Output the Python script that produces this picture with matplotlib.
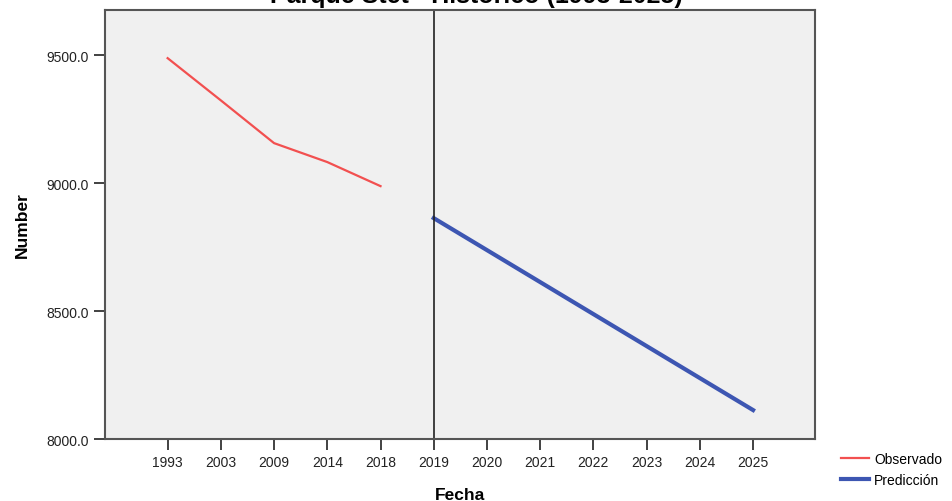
import matplotlib.pyplot as plt

plt.switch_backend('Agg')
plt.rcParams['font.family'] = ['Liberation Sans', 'DejaVu Sans']

# data
years = ['1993', '2003', '2009', '2014', '2018', '2019', '2020', '2021', '2022', '2023', '2024', '2025']
obs_years = ['1993', '2003', '2009', '2014', '2018']
observado = [9488, 9323, 9156, 9082, 8988]
pred_years = ['2019', '2020', '2021', '2022', '2023', '2024', '2025']
prediccion = [8863, 8738, 8613, 8488, 8363, 8238, 8113]
yticks = [8000, 8500, 9000, 9500]

pos = {y: i for i, y in enumerate(years)}

fig = plt.figure(figsize=(9.53, 5.02), dpi=100)
ax = fig.add_axes([0.110, 0.1235, 0.745, 0.8545])
ax.set_facecolor('#f0f0f0')

ax.plot([pos[y] for y in obs_years], observado, color='#f25050', lw=1.6, label='Observado')
ax.plot([pos[y] for y in pred_years], prediccion, color='#3d56b2', lw=3, label='Predicción')
ax.axvline(pos['2019'], color='#222222', lw=1.2)

ax.set_xlim(-1.18, 12.16)
ax.set_ylim(8000, 9676)
ax.set_xticks(range(len(years)))
ax.set_xticklabels(years)
ax.set_yticks(yticks)
ax.set_yticklabels([f'{v:.1f}' for v in yticks])
ax.tick_params(axis='both', labelsize=10, colors='#333333', length=8, width=1.3, labelcolor='#222222')
for s in ax.spines.values():
    s.set_color('#555555')
    s.set_linewidth(1.5)

ax.set_xlabel('Fecha', fontsize=12.5, fontweight='bold', labelpad=13)
ax.set_ylabel('Number', fontsize=12.5, fontweight='bold', labelpad=12)

# title is clipped by the top edge in the reference
fig.text(0.5, 1 - 3 / 502, 'Parque Stet - Histórico (1993-2025)', ha='center', va='baseline',
         fontsize=18, fontweight='bold')

leg = fig.legend(loc='lower left', bbox_to_anchor=(0.872, 0.008), frameon=False, fontsize=10,
                 handlelength=2.0, handletextpad=0.4, labelspacing=0.55, borderpad=0.2)

fig.savefig('out.png', dpi=100)
